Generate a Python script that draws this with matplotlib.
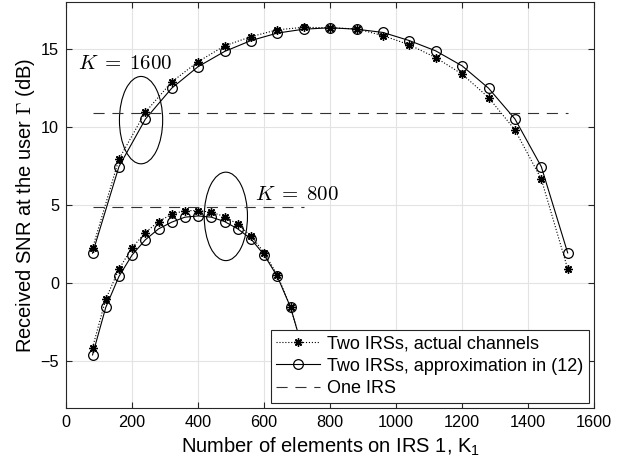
import matplotlib.pyplot as plt
from matplotlib.patches import Ellipse

plt.rcParams['font.family'] = ['Liberation Sans', 'DejaVu Sans']
plt.rcParams['mathtext.fontset'] = 'cm'

# K = 1600 case
k1_big = [80, 160, 240, 320, 400, 480, 560, 640, 720, 800, 880, 960, 1040, 1120, 1200, 1280, 1360, 1440, 1520]
actual_big = [2.24, 7.95, 10.96, 12.9, 14.2, 15.21, 15.8, 16.24, 16.4, 16.37, 16.3, 15.87, 15.28, 14.46, 13.4, 11.9, 9.83, 6.67, 0.92]
approx_big = [1.92, 7.47, 10.51, 12.5, 13.88, 14.85, 15.55, 16.03, 16.28, 16.37, 16.28, 16.07, 15.55, 14.89, 13.93, 12.5, 10.53, 7.47, 1.94]
one_irs_big = 10.93

# K = 800 case
k1_small = [80, 120, 160, 200, 240, 280, 320, 360, 400, 440, 480, 520, 560, 600, 640, 680, 720]
actual_small = [-4.13, -1.03, 0.9, 2.28, 3.24, 3.95, 4.42, 4.65, 4.65, 4.55, 4.27, 3.78, 3.03, 1.96, 0.53, -1.54, -4.45]
approx_small = [-4.6, -1.56, 0.43, 1.81, 2.78, 3.48, 3.91, 4.23, 4.31, 4.23, 3.95, 3.48, 2.84, 1.81, 0.43, -1.54, -4.45]
one_irs_small = 4.85

fig = plt.figure(figsize=(6.3, 4.7), dpi=100)
ax = fig.add_axes([0.105, 0.132, 0.838, 0.863])

star = (8, 2, 0)
ax.plot(k1_big, actual_big, ':', color='k', lw=0.8, marker=star, ms=6, mew=1.0,
        label='Two IRSs, actual channels')
ax.plot(k1_big, approx_big, '-', color='k', lw=0.8, marker='o', ms=7, mfc='none', mew=0.9,
        label='Two IRSs, approximation in (12)')
ax.plot([k1_big[0], k1_big[-1]], [one_irs_big] * 2, color='#333333', lw=0.8, dashes=(10, 7),
        label='One IRS')

ax.plot(k1_small, actual_small, ':', color='k', lw=0.8, marker=star, ms=6, mew=1.0)
ax.plot(k1_small, approx_small, '-', color='k', lw=0.8, marker='o', ms=7, mfc='none', mew=0.9)
ax.plot([k1_small[0], k1_small[-1]], [one_irs_small] * 2, color='#333333', lw=0.8, dashes=(10, 7))

# annotation ellipses
ax.add_patch(Ellipse((227, 10.45), 131, 5.6, fill=False, color='k', lw=0.8))
ax.add_patch(Ellipse((484, 4.28), 131, 5.67, fill=False, color='k', lw=0.8))
ax.text(37, 13.72, '$K\\;=\\;1600$', fontsize=15, va='baseline')
ax.text(573, 5.34, '$K\\;=\\;800$', fontsize=15, va='baseline')

ax.set_xlim(0, 1600)
ax.set_ylim(-8, 18)
ax.set_xticks(range(0, 1601, 200))
ax.set_yticks([-5, 0, 5, 10, 15])
ax.grid(True, color='#e3e3e3', lw=0.8)
ax.set_axisbelow(True)
ax.tick_params(direction='in', top=True, right=True, labelsize=11.7, color='#262626', length=4, pad=5)
for s in ax.spines.values():
    s.set_color('#262626')
    s.set_linewidth(0.8)

ax.set_xlabel('Number of elements on IRS 1, K$\\mathregular{_1}$', fontsize=14.5, labelpad=4)
ax.set_ylabel('Received SNR at the user $\\Gamma$ (dB)', fontsize=14.5, labelpad=3)

leg = ax.legend(loc='lower right', fontsize=13, fancybox=False, framealpha=1,
                edgecolor='#262626', borderaxespad=0.3, handlelength=2.4,
                borderpad=0.3, labelspacing=0.3, handletextpad=0.4)
leg.get_frame().set_linewidth(0.8)

fig.savefig('out.png')
